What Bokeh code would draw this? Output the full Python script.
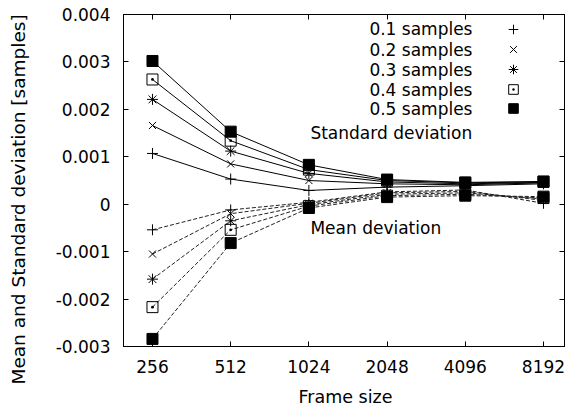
import math
from bokeh.plotting import figure
from bokeh.models import (FixedTicker, LogAxis, LinearAxis, Label, Legend, LegendItem,
                          CustomJSTickFormatter, Range1d)
from bokeh.core.properties import value
from bokeh.embed import file_html
from bokeh.resources import INLINE

# ---------------- data ----------------
frame_sizes = [256, 512, 1024, 2048, 4096, 8192]
x_tick_labels = ["256", "512", "1024", "2048", "4096", "8192"]
y_ticks = [-0.003, -0.002, -0.001, 0.0, 0.001, 0.002, 0.003, 0.004]
y_tick_labels = ["-0.003", "-0.002", "-0.001", "0", "0.001", "0.002", "0.003", "0.004"]

series_names = ["0.1 samples", "0.2 samples", "0.3 samples", "0.4 samples", "0.5 samples"]

std_01 = [0.00107, 0.00053, 0.00029, 0.00036, 0.00039, 0.00043]
std_02 = [0.00166, 0.00085, 0.00050, 0.00043, 0.00041, 0.00045]
std_03 = [0.00221, 0.00112, 0.00065, 0.00047, 0.00043, 0.00046]
std_04 = [0.00263, 0.00134, 0.00073, 0.00050, 0.00045, 0.00047]
std_05 = [0.00302, 0.00153, 0.00083, 0.00052, 0.00046, 0.00048]

mean_01 = [-0.00054, -0.00012, 0.00004, 0.00026, 0.00030, 0.00002]
mean_02 = [-0.00105, -0.00020, 0.00002, 0.00024, 0.00027, 0.00008]
mean_03 = [-0.00158, -0.00035, -0.00001, 0.00021, 0.00024, 0.00011]
mean_04 = [-0.00217, -0.00054, -0.00004, 0.00018, 0.00021, 0.00013]
mean_05 = [-0.00284, -0.00082, -0.00008, 0.00015, 0.00018, 0.00016]

std_series = [std_01, std_02, std_03, std_04, std_05]
mean_series = [mean_01, mean_02, mean_03, mean_04, mean_05]

x_title = "Frame size"
y_title = "Mean and Standard deviation [samples]"

# ---------------- styles ----------------
FONT = "DejaVu Sans"
FS = "17px"
markers = ["cross", "x", "asterisk", "square_dot", "square"]
marker_sizes = [11, 10, 11, 11, 11]
fills = [None, None, None, None, "black"]

p = figure(width=566, height=406, output_backend="svg", toolbar_location=None,
           x_axis_type="log", x_range=Range1d(198, 9870), y_range=Range1d(-0.003, 0.004),
           min_border_left=123, min_border_right=2, min_border_top=14, min_border_bottom=60)
p.background_fill_color = "white"
p.border_fill_color = "white"
p.outline_line_color = "black"
p.outline_line_width = 1
p.xgrid.visible = False
p.ygrid.visible = False

# axes
xa = p.xaxis[0]
xa.ticker = FixedTicker(ticks=frame_sizes)
xa.major_label_overrides = {v: s for v, s in zip(frame_sizes, x_tick_labels)}
ya = p.yaxis[0]
ya.ticker = FixedTicker(ticks=y_ticks)
ya.major_label_overrides = {v: s for v, s in zip(y_ticks, y_tick_labels)}

for ax in (xa, ya):
    ax.major_tick_in = 5
    ax.major_tick_out = 0
    ax.minor_tick_line_color = None
    ax.axis_line_color = "black"
    ax.major_tick_line_color = "black"
    ax.major_label_text_font = FONT
    ax.major_label_text_font_size = FS
    ax.major_label_text_color = "black"
xa.major_label_standoff = 13
ya.major_label_standoff = 13

blank = CustomJSTickFormatter(code="return ''")
top = LogAxis(ticker=FixedTicker(ticks=frame_sizes), formatter=blank)
right = LinearAxis(ticker=FixedTicker(ticks=y_ticks), formatter=blank)
for ax in (top, right):
    ax.major_tick_in = 5
    ax.major_tick_out = 0
    ax.minor_tick_line_color = None
    ax.major_label_standoff = 0
    ax.major_label_text_font_size = "0px"
    ax.axis_line_color = "black"
p.add_layout(top, "above")
p.add_layout(right, "right")

# axis titles, in the side panels so that they are not clipped to the frame
p.add_layout(Label(x=1416, y=-0.004065, text=x_title, text_align="center",
                   text_baseline="middle", text_font=FONT, text_font_size="17.5px",
                   text_color="black"), "below")
p.add_layout(Label(x=78.0, y=0.0001, text=y_title, text_align="center",
                   text_baseline="middle", angle=math.pi / 2, text_font=FONT,
                   text_font_size="18.5px", text_color="black"), "left")

# data
renderers_std = []
for i in range(5):
    p.line(frame_sizes, std_series[i], line_color="black", line_width=1)
    p.line(frame_sizes, mean_series[i], line_color="#222222", line_width=1, line_dash="4 2")
    sc = p.scatter(frame_sizes, std_series[i], marker=markers[i], size=marker_sizes[i],
                   line_color="black", fill_color=fills[i], line_width=1)
    p.scatter(frame_sizes, mean_series[i], marker=markers[i], size=marker_sizes[i],
              line_color="black", fill_color=fills[i], line_width=1)
    renderers_std.append(sc)

# legend symbols (one small legend per row; texts drawn to their left)
legend_row_bottoms = [305, 285, 265, 245, 226]
for sc, yb in zip(renderers_std, legend_row_bottoms):
    lg = Legend(items=[LegendItem(label=value(""), renderers=[sc])], location=(378, yb),
                glyph_width=24, glyph_height=24, label_height=24, label_width=0,
                label_standoff=0, spacing=0, padding=0, margin=0,
                border_line_color=None, background_fill_alpha=0)
    p.add_layout(lg)

legend_text_y = [0.003684, 0.003262, 0.00284, 0.002418, 0.002017]
for name, yy in zip(series_names, legend_text_y):
    p.add_layout(Label(x=4366, y=yy, text=name, text_align="right", text_baseline="middle",
                       text_font=FONT, text_font_size=FS, text_color="black"))

p.add_layout(Label(x=1038, y=0.00151, text="Standard deviation", text_align="left",
                   text_baseline="middle", text_font=FONT, text_font_size=FS,
                   text_color="black"))
p.add_layout(Label(x=1038, y=-0.00051, text="Mean deviation", text_align="left",
                   text_baseline="middle", text_font=FONT, text_font_size=FS,
                   text_color="black"))

open("out.html", "w").write(file_html(p, INLINE))
